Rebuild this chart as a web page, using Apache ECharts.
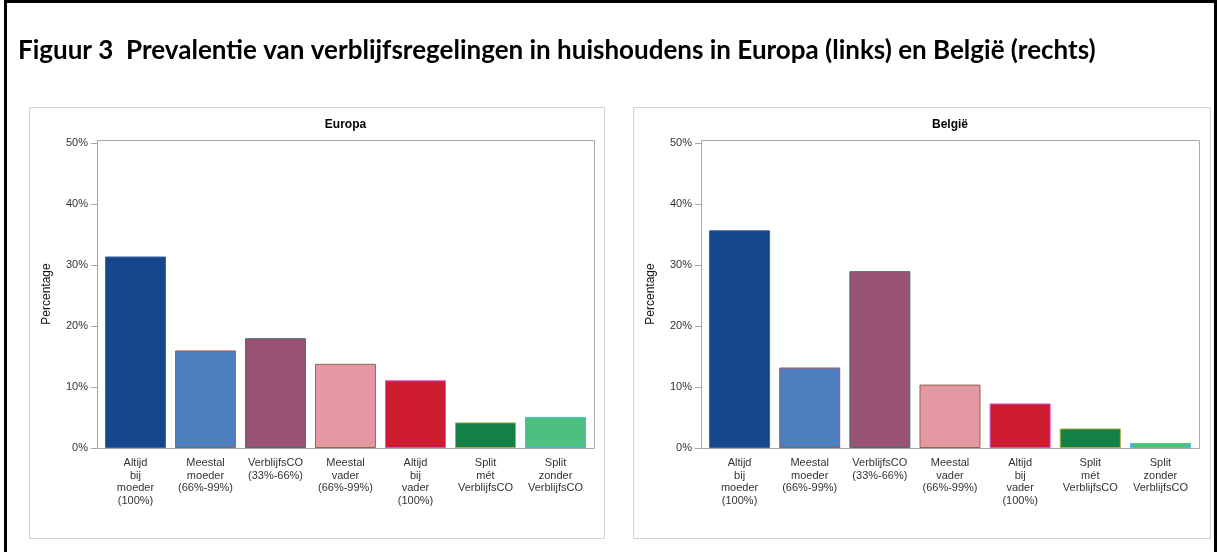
<!DOCTYPE html>
<html>
<head>
<meta charset="utf-8">
<script src="https://cdn.jsdelivr.net/npm/echarts@6/dist/echarts.min.js"></script>
<style>
html, body { margin: 0; padding: 0; background: #fff; }
#chart { width: 1219px; height: 552px; }
</style>
</head>
<body>
<div id="chart"></div>
<script>
// data
var categories = [
    'Altijd\nbij\nmoeder\n(100%)',
    'Meestal\nmoeder\n(66%-99%)',
    'VerblijfsCO\n(33%-66%)',
    'Meestal\nvader\n(66%-99%)',
    'Altijd\nbij\nvader\n(100%)',
    'Split\nmét\nVerblijfsCO',
    'Split\nzonder\nVerblijfsCO'
];
var europa = [31.4, 16.0, 18.0, 13.8, 11.1, 4.2, 5.1];
var belgie = [35.7, 13.2, 29.0, 10.4, 7.3, 3.2, 0.8];
var yTicks = [0, 10, 20, 30, 40, 50];
var fillColors = ['#16478a', '#4c7ec0', '#985274', '#e598a3', '#cc1c2d', '#138046', '#4cc07f'];
var borderColors = ['#3a629c', '#b8504a', '#3f7070', '#8e6a48', '#d452d4', '#a8a848', '#4ab6e8'];

var mainTitle = 'Figuur 3  Prevalentie van verblijfsregelingen in huishoudens in Europa (links) en België (rechts)';
var font = '"Liberation Sans", Arial, sans-serif';

// layout of the two panels (pixels)
var panels = [
    { name: 'Europa', values: europa, box: [29, 107, 575, 431], frame: [97, 140, 497, 308], band: [100.5, 490] },
    { name: 'België', values: belgie, box: [633, 107, 577, 431], frame: [701, 140, 498, 308], band: [704.5, 491] }
];

var chart = echarts.init(document.getElementById('chart'));

var grids = [], xAxes = [], yAxes = [], series = [];
var graphics = [
    // black frame around the figure (bottom is cut off)
    { type: 'rect', shape: { x: 5.5, y: 1.5, width: 1210, height: 600 },
      style: { fill: 'none', stroke: '#000', lineWidth: 3 }, z: 1 },
    { type: 'text', x: 18, y: 51,
      style: { text: mainTitle, font: 'bold 26px Lato, sans-serif', fill: '#000', textVerticalAlign: 'middle' } }
];

panels.forEach(function (p, i) {
    grids.push({ left: p.band[0], width: p.band[1], top: p.frame[1], height: p.frame[3], show: false });
    xAxes.push({
        type: 'category', gridIndex: i, data: categories,
        axisLine: { show: false },
        axisTick: { alignWithLabel: true, length: 5, lineStyle: { color: '#a6a6a6' } },
        axisLabel: { interval: 0, margin: 9, fontSize: 11, lineHeight: 12.5, color: '#333', fontFamily: font }
    });
    yAxes.push({
        type: 'value', gridIndex: i, min: 0, max: 50.5, offset: p.band[0] - p.frame[0],
        name: 'Percentage', nameLocation: 'middle', nameGap: 44,
        nameTextStyle: { fontSize: 12, color: '#111', fontFamily: font },
        axisLine: { show: false },
        splitLine: { show: false },
        axisTick: { show: true, length: 6, customValues: yTicks, lineStyle: { color: '#a6a6a6' } },
        axisLabel: { customValues: yTicks, formatter: '{value}%', margin: 9, fontSize: 11, color: '#333', fontFamily: font }
    });
    series.push({
        type: 'bar', xAxisIndex: i, yAxisIndex: i, barCategoryGap: '13%',
        data: p.values.map(function (v, k) {
            return { value: v, itemStyle: { color: fillColors[k], borderColor: borderColors[k], borderWidth: 1 } };
        })
    });
    graphics.push(
        { type: 'rect', shape: { x: p.box[0] + 0.5, y: p.box[1] + 0.5, width: p.box[2], height: p.box[3] },
          style: { fill: 'none', stroke: '#d3d3d3', lineWidth: 1 }, z: 1 },
        { type: 'rect', shape: { x: p.frame[0] + 0.5, y: p.frame[1] + 0.5, width: p.frame[2], height: p.frame[3] },
          style: { fill: 'none', stroke: '#a8a8a8', lineWidth: 1 }, z: 10 },
        { type: 'text', x: p.frame[0] + p.frame[2] / 2, y: 125,
          style: { text: p.name, font: 'bold 12px ' + font, fill: '#000', textAlign: 'center', textVerticalAlign: 'middle' } }
    );
});

chart.setOption({
    animation: false,
    backgroundColor: '#fff',
    grid: grids,
    xAxis: xAxes,
    yAxis: yAxes,
    series: series,
    graphic: graphics
});
</script>
</body>
</html>
